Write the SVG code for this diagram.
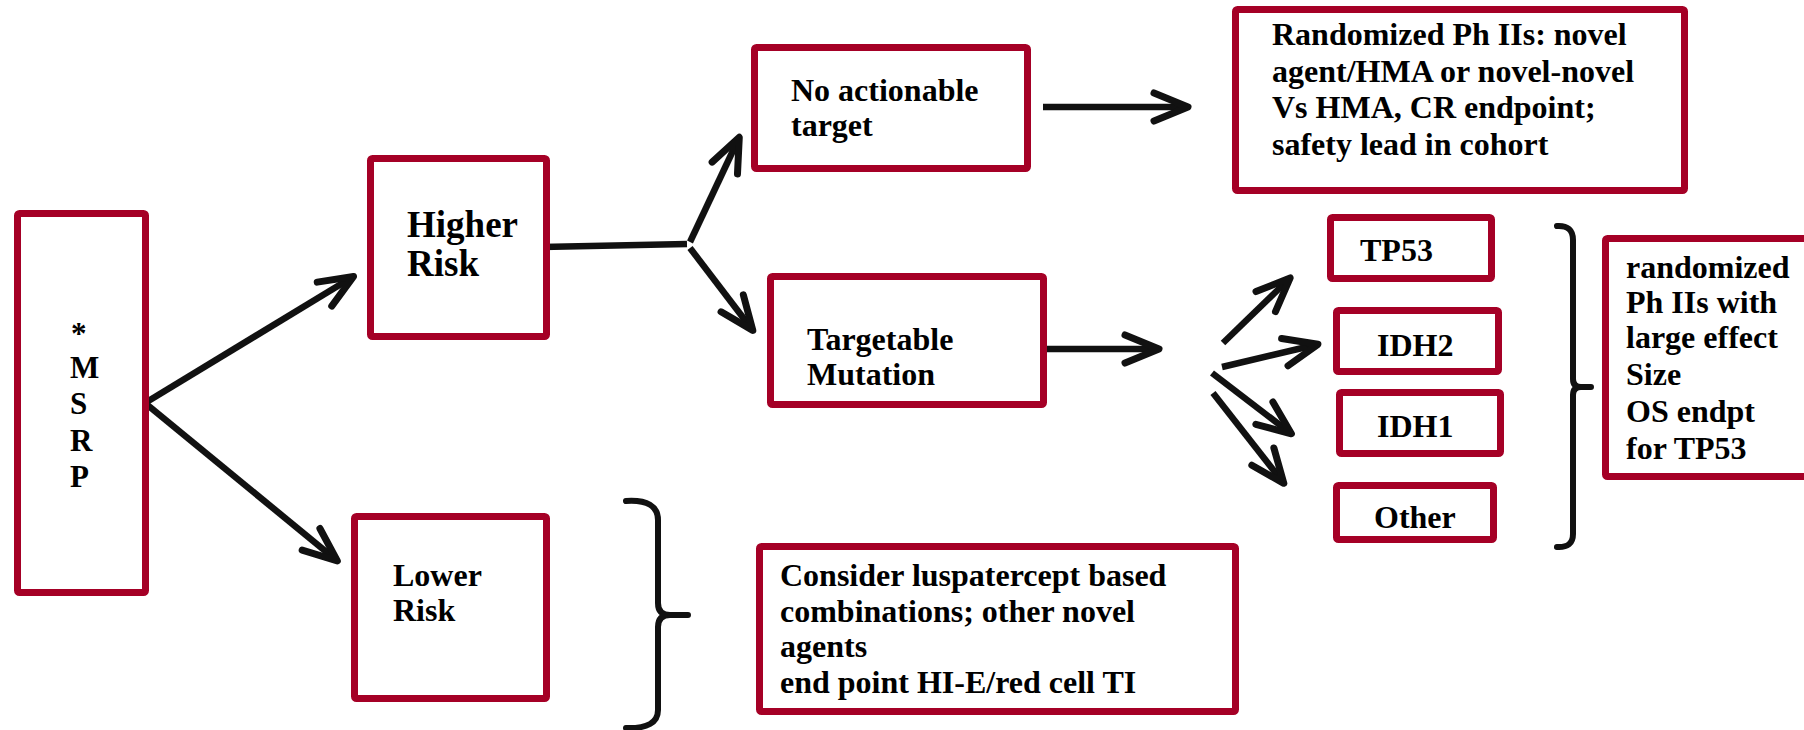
<svg xmlns="http://www.w3.org/2000/svg" width="1804" height="730" viewBox="0 0 1804 730">
<style>
.box{fill:#fff;stroke:#A50026;stroke-width:7;stroke-linejoin:round}
.t{font-family:"Liberation Serif","Times New Roman",serif;font-weight:bold;font-size:32px;fill:#000}
.c{fill:none;stroke:#111;stroke-width:6.5;stroke-linecap:butt}
.br{fill:none;stroke:#111;stroke-width:6;stroke-linecap:round;stroke-linejoin:round}
</style>
<defs>
<marker id="ah" markerUnits="userSpaceOnUse" orient="auto" refX="0" refY="0" markerWidth="80" markerHeight="80" viewBox="-40 -40 80 80" overflow="visible">
<path d="M-31,-14 L3,0 L-31,14" fill="none" stroke="#111" stroke-width="7" stroke-linecap="round" stroke-linejoin="round"/>
</marker>
</defs>
<rect width="1804" height="730" fill="#fff"/>
<g id="connectors">
<line class="c" x1="145" y1="403" x2="351" y2="278" marker-end="url(#ah)"/>
<line class="c" x1="145" y1="403" x2="335" y2="559" marker-end="url(#ah)"/>
<line class="c" x1="542" y1="247" x2="687" y2="244"/>
<line class="c" x1="690" y1="242" x2="738" y2="140" marker-end="url(#ah)"/>
<line class="c" x1="690" y1="248" x2="751" y2="328" marker-end="url(#ah)"/>
<line class="c" x1="1043" y1="107" x2="1185" y2="107" marker-end="url(#ah)"/>
<line class="c" x1="1047" y1="349" x2="1156" y2="349" marker-end="url(#ah)"/>
<line class="c" x1="1223" y1="343" x2="1288" y2="280" marker-end="url(#ah)"/>
<line class="c" x1="1222" y1="367" x2="1315" y2="345" marker-end="url(#ah)"/>
<line class="c" x1="1212" y1="373" x2="1289" y2="432" marker-end="url(#ah)"/>
<line class="c" x1="1213" y1="393" x2="1282" y2="481" marker-end="url(#ah)"/>
<path class="br" d="M626,501 Q658,499 658,520 L658,603 Q658,615 670,615 L688,615 M670,615 Q658,615 658,627 L658,710 Q658,729 626,728"/>
<path class="br" d="M1557,226 Q1573,225 1573,240 L1573,379 Q1573,387 1581,387 L1591,387 M1581,387 Q1573,387 1573,395 L1573,534 Q1573,548 1557,547"/>
</g>
<g id="msrp">
<rect class="box" x="17.5" y="213.5" width="128" height="379" rx="2"/>
<text class="t" style="font-size:31px" x="71" y="344">*</text>
<text class="t" style="font-size:31px" x="70" y="378">M</text>
<text class="t" style="font-size:31px" x="70" y="414">S</text>
<text class="t" style="font-size:31px" x="70" y="451">R</text>
<text class="t" style="font-size:31px" x="70" y="487">P</text>
</g>
<g id="higher-risk">
<rect class="box" x="370.5" y="158.5" width="176" height="178" rx="2"/>
<text class="t" style="font-size:37px" x="407" y="237">Higher</text>
<text class="t" style="font-size:37px" x="407" y="276">Risk</text>
</g>
<g id="lower-risk">
<rect class="box" x="354.5" y="516.5" width="192" height="182" rx="2"/>
<text class="t" x="393" y="586">Lower</text>
<text class="t" x="393" y="621">Risk</text>
</g>
<g id="no-actionable">
<rect class="box" x="754.5" y="47.5" width="273" height="121" rx="2"/>
<text class="t" x="791" y="101">No actionable</text>
<text class="t" x="791" y="136">target</text>
</g>
<g id="randomized">
<rect class="box" x="1235.5" y="9.5" width="449" height="181" rx="2"/>
<text class="t" x="1272" y="45">Randomized Ph IIs: novel</text>
<text class="t" x="1272" y="82">agent/HMA or novel-novel</text>
<text class="t" x="1272" y="118">Vs HMA, CR endpoint;</text>
<text class="t" x="1272" y="155">safety lead in cohort</text>
</g>
<g id="targetable">
<rect class="box" x="770.5" y="276.5" width="273" height="128" rx="2"/>
<text class="t" x="807" y="350">Targetable</text>
<text class="t" x="807" y="385">Mutation</text>
</g>
<g id="tp53">
<rect class="box" x="1330.5" y="217.5" width="161" height="61" rx="2"/>
<text class="t" x="1360" y="261">TP53</text>
</g>
<g id="idh2">
<rect class="box" x="1336.5" y="310.5" width="162" height="61" rx="2"/>
<text class="t" x="1377" y="356">IDH2</text>
</g>
<g id="idh1">
<rect class="box" x="1339.5" y="392.5" width="161" height="61" rx="2"/>
<text class="t" x="1377" y="437">IDH1</text>
</g>
<g id="other">
<rect class="box" x="1336.5" y="485.5" width="157" height="54" rx="2"/>
<text class="t" x="1374" y="528">Other</text>
</g>
<g id="randomized-large">
<rect class="box" x="1605.5" y="238.5" width="220" height="238" rx="2"/>
<text class="t" x="1626" y="278">randomized</text>
<text class="t" x="1626" y="313">Ph IIs with</text>
<text class="t" x="1626" y="348">large effect</text>
<text class="t" x="1626" y="385">Size</text>
<text class="t" x="1626" y="422">OS endpt</text>
<text class="t" x="1626" y="459">for TP53</text>
</g>
<g id="consider">
<rect class="box" x="759.5" y="546.5" width="476" height="165" rx="2"/>
<text class="t" x="780" y="586">Consider luspatercept based</text>
<text class="t" x="780" y="622">combinations; other novel</text>
<text class="t" x="780" y="657">agents</text>
<text class="t" x="780" y="693">end point HI-E/red cell TI</text>
</g>
</svg>
